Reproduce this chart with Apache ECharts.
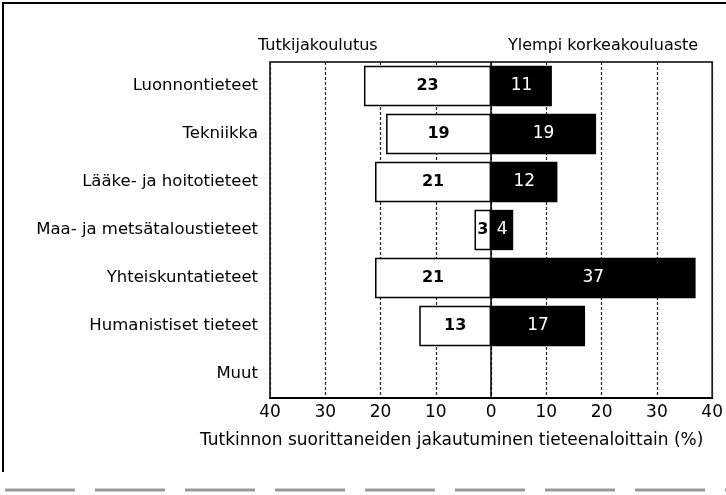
<!DOCTYPE html>
<html>
<head>
<meta charset="utf-8">
<script src="https://cdn.jsdelivr.net/npm/echarts@6/dist/echarts.min.js"></script>
<style>
  html, body { margin: 0; padding: 0; background: #fff; }
  #chart { width: 726px; height: 495px; }
</style>
</head>
<body>
<div id="chart"></div>
<script>
const categories = ['Luonnontieteet', 'Tekniikka', 'Lääke- ja hoitotieteet', 'Maa- ja metsätaloustieteet', 'Yhteiskuntatieteet', 'Humanistiset tieteet', 'Muut']
const tutkijakoulutus = [23, 19, 21, 3, 21, 13, null]
const ylempi = [11, 19, 12, 4, 37, 17, null]
const seriesNames = ['Tutkijakoulutus', 'Ylempi korkeakouluaste']
const axisTitle = 'Tutkinnon suorittaneiden jakautuminen tieteenaloittain (%)'

const font = '"DejaVu Sans", sans-serif'

const chart = echarts.init(document.getElementById('chart'))

chart.setOption({
  animation: false,
  backgroundColor: '#fff',
  textStyle: { fontFamily: font },
  grid: {
    left: 270,
    right: 10,
    top: 62,
    bottom: 97,
    show: true,
    borderColor: '#000',
    borderWidth: 1.5
  },
  xAxis: {
    type: 'value',
    min: -40,
    max: 40,
    interval: 10,
    axisLine: { show: true, lineStyle: { color: '#000', width: 2 } },
    axisTick: { show: false },
    axisLabel: {
      color: '#000',
      fontSize: 17,
      fontFamily: font,
      margin: 6,
      formatter: v => Math.abs(v)
    },
    splitLine: {
      show: true,
      lineStyle: { color: '#222', type: [3, 2], width: 1.2 }
    }
  },
  yAxis: {
    type: 'category',
    data: categories,
    inverse: true,
    axisLine: { show: true, lineStyle: { color: '#000', width: 1.5 } },
    axisTick: { show: false },
    axisLabel: {
      color: '#000',
      fontSize: 16.5,
      fontFamily: font,
      margin: 12
    }
  },
  series: [
    {
      name: seriesNames[0],
      type: 'bar',
      stack: 'all',
      barWidth: '84%',
      data: tutkijakoulutus.map(v => (v == null ? null : -v)),
      itemStyle: { color: '#fff', borderColor: '#000', borderWidth: 1.5 },
      label: {
        show: true,
        position: 'inside',
        color: '#000',
        fontSize: 16,
        fontWeight: 'bold',
        fontFamily: font,
        formatter: p => Math.abs(p.value)
      }
    },
    {
      name: seriesNames[1],
      type: 'bar',
      stack: 'all',
      barWidth: '84%',
      data: ylempi,
      itemStyle: { color: '#000' },
      label: {
        show: true,
        position: 'inside',
        color: '#fff',
        fontSize: 17,
        fontFamily: font
      }
    }
  ],
  graphic: [
    {
      type: 'text',
      left: 258,
      top: 38,
      style: { text: seriesNames[0], fill: '#000', font: '16px ' + font }
    },
    {
      type: 'text',
      left: 508,
      top: 38,
      style: { text: seriesNames[1], fill: '#000', font: '16px ' + font }
    },
    {
      type: 'text',
      left: 200,
      top: 432,
      style: { text: axisTitle, fill: '#000', font: '17px ' + font }
    },
    {
      type: 'polyline',
      shape: { points: [[3, 472], [3, 3], [726, 3]] },
      style: { stroke: '#000', lineWidth: 2, fill: null }
    },
    {
      type: 'line',
      shape: { x1: 5, y1: 490, x2: 726, y2: 490 },
      style: { stroke: '#999', lineWidth: 3, lineDash: [70, 20] }
    }
  ]
})
</script>
</body>
</html>
